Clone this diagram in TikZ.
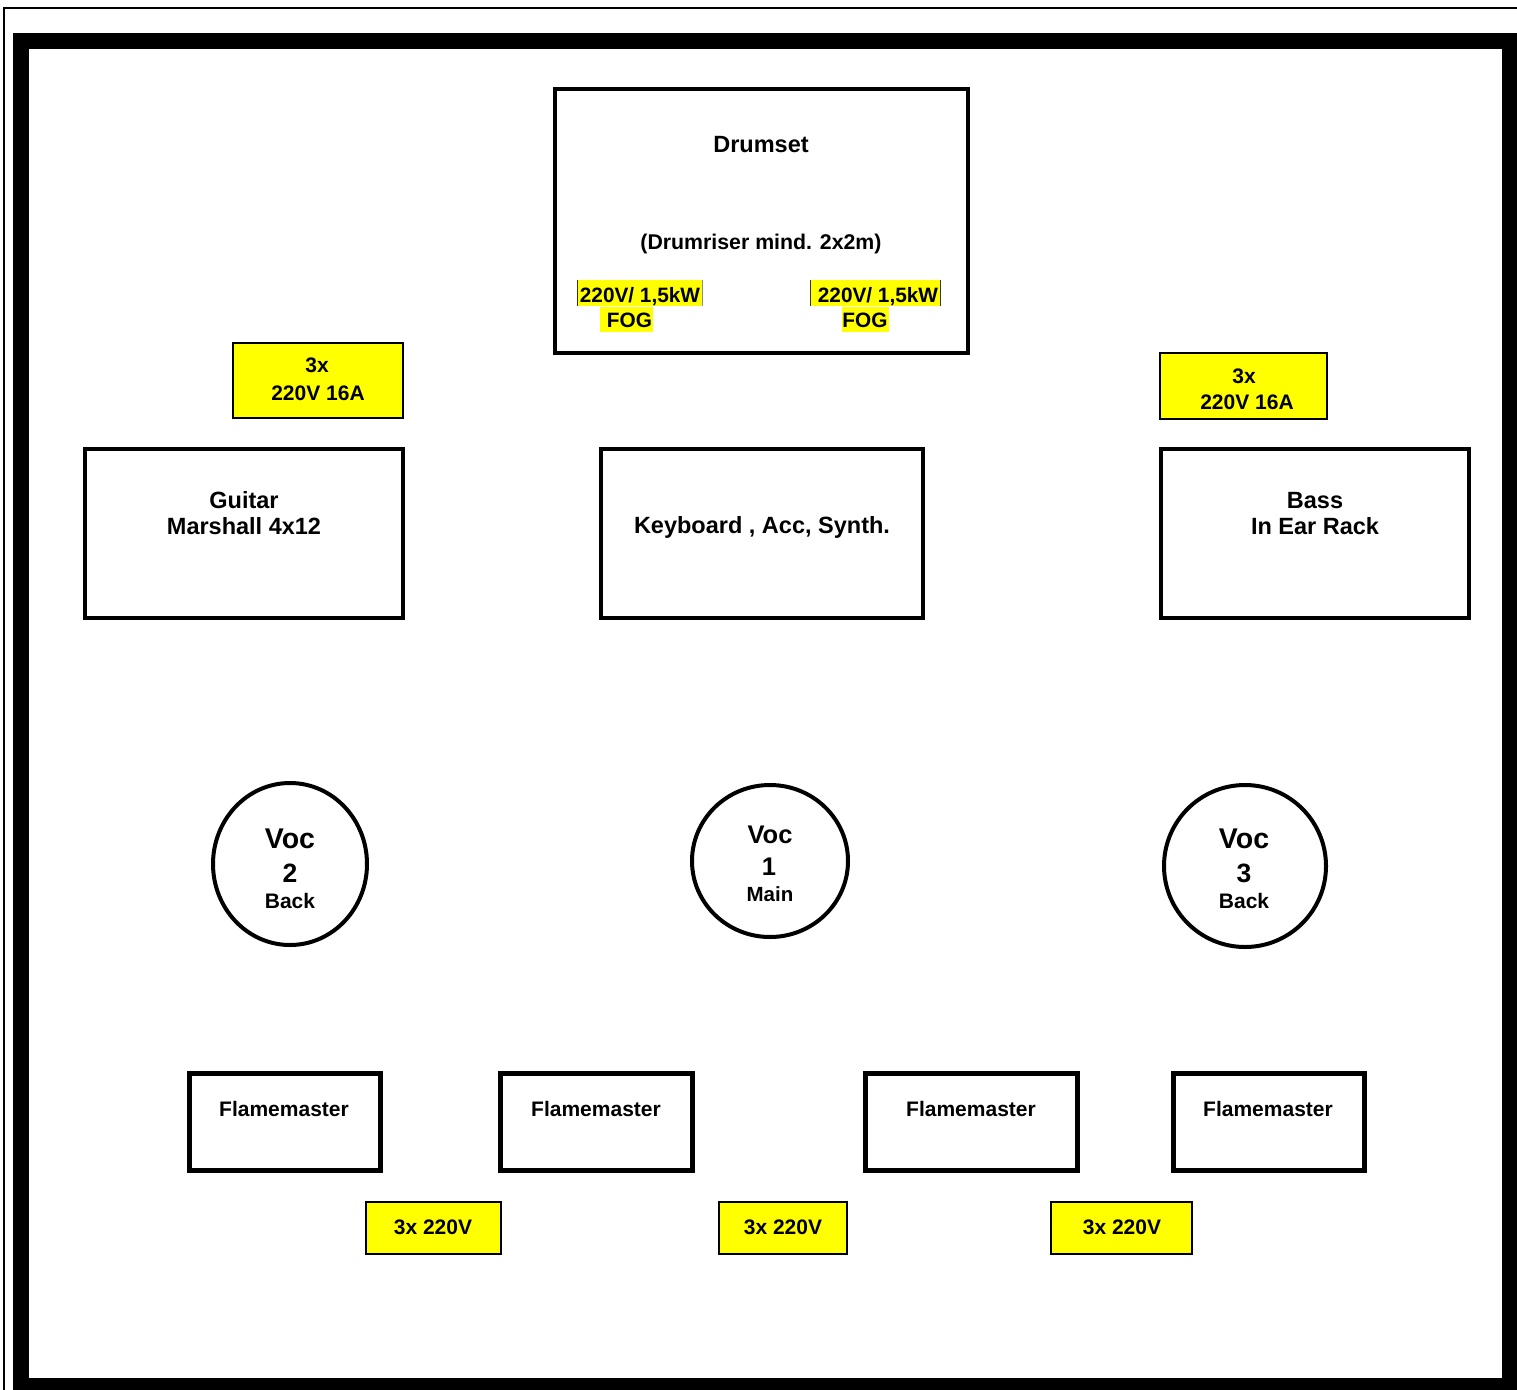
\documentclass[tikz,border=0pt]{standalone}
\usepackage{fontspec}
\setmainfont{Liberation Sans}
\usetikzlibrary{shapes.geometric}
\definecolor{hl}{RGB}{255,255,0}
\tikzset{
  stagebox/.style={draw=black, line width=4pt, inner sep=0pt, fill=white},
  flamebox/.style={draw=black, line width=4.5pt, inner sep=0pt},
  ybox/.style={draw=black, fill=hl, line width=1.5pt, inner sep=0pt},
  vocring/.style={draw=black, line width=4pt, ellipse, inner sep=0pt},
  lbl/.style={anchor=base, inner sep=0pt, font=\bfseries\fontsize{23.5}{28}\selectfont},
  slbl/.style={anchor=base, inner sep=0pt, font=\bfseries\fontsize{21}{25}\selectfont},
}
\begin{document}
\begin{tikzpicture}[x=1pt,y=-1pt]
\clip (0,0) rectangle (1517,1389);
\fill[white] (0,0) rectangle (1517,1389);
% frames
\draw[line width=2.8pt] (4,8) rectangle (1540,1420);
\draw[line width=16pt] (21,41) rectangle (1510,1386);

% Drumset
\node (drum) [stagebox, minimum width=413pt, minimum height=264pt] at (761.5,221) {};
\node (drumt) [lbl] at (761,152) {Drumset};
\node (riser) [slbl, font=\bfseries\fontsize{21.3}{25}\selectfont] at (761,249) {(Drumriser mind. 2x2m)};
% fog highlights
\fill[hl] (577,280) rectangle (703,306);
\fill[hl] (600,307) rectangle (653,332);
\fill[hl] (810,280) rectangle (941,306);
\fill[hl] (842,307) rectangle (889,332);
\draw[line width=1pt, black!80] (577.5,280) -- (577.5,306);
\draw[line width=1pt, black!45] (702.5,280) -- (702.5,306);
\draw[line width=1pt, black!80] (810.5,280) -- (810.5,306);
\draw[line width=1pt, black!80] (940.5,280) -- (940.5,306);
\node (powl) [slbl, font=\bfseries\fontsize{20.8}{25}\selectfont] at (640,302) {220V/ 1,5kW};
\node (fogl) [slbl, font=\bfseries\fontsize{20.8}{25}\selectfont] at (629.5,327) {FOG};
\node (powr) [slbl, font=\bfseries\fontsize{20.8}{25}\selectfont] at (878,302) {220V/ 1,5kW};
\node (fogr) [slbl, font=\bfseries\fontsize{20.8}{25}\selectfont] at (865,327) {FOG};

% power boxes top
\node (pl) [ybox, minimum width=170pt, minimum height=75pt] at (318,380.5) {};
\node (plt1) [slbl] at (317,372) {3x};
\node (plt2) [slbl] at (318,400) {220V 16A};
\node (pr) [ybox, minimum width=167pt, minimum height=66pt] at (1243.5,386) {};
\node (prt1) [slbl] at (1244,383) {3x};
\node (prt2) [slbl] at (1247,409) {220V 16A};

% amp boxes
\node (gtr) [stagebox, minimum width=318pt, minimum height=169pt] at (244,533.5) {};
\node (gtr1) [lbl] at (244,508) {Guitar};
\node (gtr2) [lbl] at (244,534) {Marshall 4x12};
\node (key) [stagebox, minimum width=322pt, minimum height=169pt] at (762,533.5) {};
\node (key1) [lbl] at (762,533) {Keyboard , Acc, Synth.};
\node (bass) [stagebox, minimum width=308pt, minimum height=169pt] at (1315,533.5) {};
\node (bass1) [lbl] at (1315,508) {Bass};
\node (bass2) [lbl] at (1315,534) {In Ear Rack};

% vocals
\node (voc2) [vocring, minimum width=154pt, minimum height=162pt] at (290,864) {};
\node (voc2a) [anchor=base, inner sep=0pt, font=\bfseries\fontsize{28.5}{32}\selectfont] at (290,848) {Voc};
\node (voc2b) [anchor=base, inner sep=0pt, font=\bfseries\fontsize{26.5}{30}\selectfont] at (290,882) {2};
\node (voc2c) [slbl] at (290,908) {Back};
\node (voc1) [vocring, minimum width=156pt, minimum height=152pt] at (770,861) {};
\node (voc1a) [anchor=base, inner sep=0pt, font=\bfseries\fontsize{25.5}{30}\selectfont] at (770,843) {Voc};
\node (voc1b) [anchor=base, inner sep=0pt, font=\bfseries\fontsize{25.5}{30}\selectfont] at (769,875) {1};
\node (voc1c) [anchor=base, inner sep=0pt, font=\bfseries\fontsize{20.5}{25}\selectfont] at (770,901) {Main};
\node (voc3) [vocring, minimum width=162pt, minimum height=162pt] at (1245,866) {};
\node (voc3a) [anchor=base, inner sep=0pt, font=\bfseries\fontsize{28.5}{32}\selectfont] at (1244,848) {Voc};
\node (voc3b) [anchor=base, inner sep=0pt, font=\bfseries\fontsize{26.5}{30}\selectfont] at (1244,882) {3};
\node (voc3c) [slbl] at (1244,908) {Back};

% flamemasters
\node (f1) [flamebox, minimum width=191pt, minimum height=97pt] at (285,1122) {};
\node (f1t) [slbl] at (284,1116) {Flamemaster};
\node (f2) [flamebox, minimum width=192pt, minimum height=97pt] at (596.5,1122) {};
\node (f2t) [slbl] at (596,1116) {Flamemaster};
\node (f3) [flamebox, minimum width=212pt, minimum height=97pt] at (971.5,1122) {};
\node (f3t) [slbl] at (971,1116) {Flamemaster};
\node (f4) [flamebox, minimum width=191pt, minimum height=97pt] at (1269,1122) {};
\node (f4t) [slbl] at (1268,1116) {Flamemaster};

% power boxes bottom
\node (b1) [ybox, minimum width=135pt, minimum height=52pt] at (433.5,1228) {};
\node (b1t) [slbl] at (433,1234) {3x 220V};
\node (b2) [ybox, minimum width=128pt, minimum height=52pt] at (783,1228) {};
\node (b2t) [slbl] at (783,1234) {3x 220V};
\node (b3) [ybox, minimum width=141pt, minimum height=52pt] at (1121.5,1228) {};
\node (b3t) [slbl] at (1122,1234) {3x 220V};
\end{tikzpicture}
\end{document}
